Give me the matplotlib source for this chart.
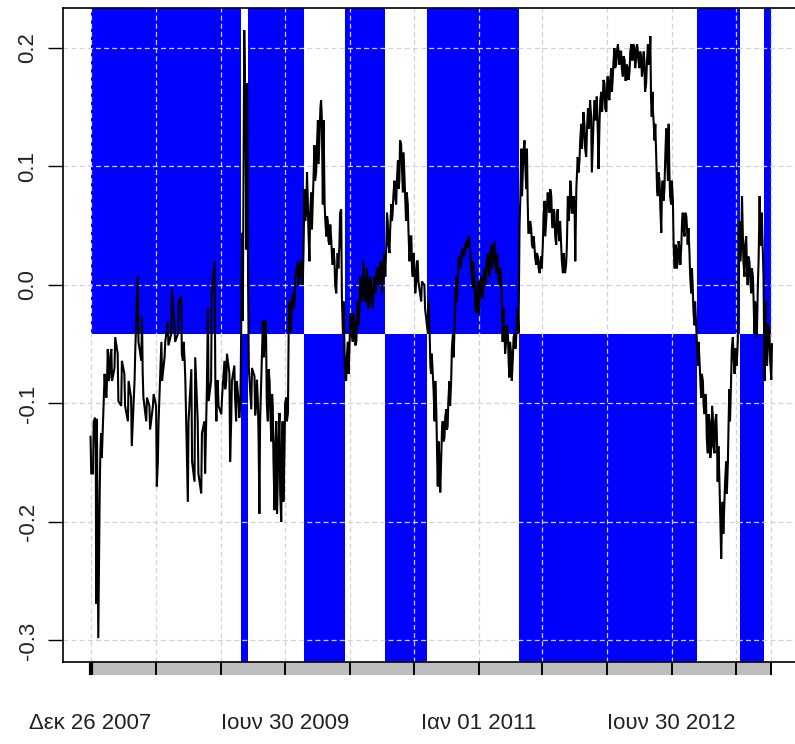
import numpy as np
import matplotlib
matplotlib.use("Agg")
import matplotlib.pyplot as plt
from matplotlib.patches import Rectangle
import matplotlib.transforms as mtransforms

# ---------------- data ----------------
start_date = np.datetime64("2007-12-26")

# day offset from start, and high / low of the series within each short window
sample_day = [
    0, 7, 13, 16, 20, 26, 30, 35, 40, 45, 49, 54, 59, 68, 77, 87, 96, 106, 115, 125,
    134, 144, 148, 158, 167, 177, 186, 191, 201, 210, 219, 229, 238, 248, 257, 262, 267, 276, 286, 295,
    304, 314, 323, 328, 333, 342, 352, 357, 361, 371, 380, 385, 394, 399, 408, 413, 420, 425, 430, 434,
    438, 442, 447, 456, 465, 470, 475, 479, 489, 494, 498, 503, 508, 513, 517, 522, 527, 531, 536, 541,
    545, 550, 555, 560, 564, 569, 574, 579, 588, 593, 598, 602, 607, 612, 616, 621, 626, 631, 635, 640,
    645, 650, 654, 659, 664, 669, 673, 678, 683, 687, 692, 697, 701, 706, 711, 716, 720, 725, 730, 735,
    739, 744, 749, 754, 758, 763, 768, 772, 777, 782, 787, 791, 796, 801, 806, 810, 815, 820, 825, 829,
    834, 839, 843, 848, 853, 857, 862, 867, 872, 876, 881, 886, 891, 895, 900, 905, 910, 914, 919, 924,
    928, 938, 947, 957, 962, 966, 971, 976, 981, 985, 990, 995, 999, 1004, 1009, 1013, 1018, 1023, 1028, 1032,
    1037, 1042, 1047, 1051, 1056, 1061, 1066, 1070, 1075, 1084, 1089, 1094, 1099, 1103, 1108, 1113, 1118, 1122, 1127, 1132,
    1137, 1141, 1146, 1151, 1155, 1160, 1165, 1169, 1174, 1179, 1184, 1188, 1193, 1198, 1203, 1207, 1212, 1217, 1222, 1226,
    1231, 1236, 1240, 1245, 1250, 1255, 1259, 1264, 1269, 1274, 1278, 1283, 1288, 1293, 1297, 1302, 1307, 1311, 1316, 1321,
    1325, 1330, 1335, 1340, 1344, 1349, 1354, 1359, 1363, 1368, 1373, 1378, 1382, 1387, 1392, 1396, 1401, 1406, 1411, 1415,
    1420, 1425, 1430, 1434, 1439, 1444, 1449, 1453, 1458, 1463, 1467, 1472, 1477, 1481, 1486, 1491, 1496, 1500, 1505, 1510,
    1515, 1519, 1524, 1529, 1534, 1538, 1543, 1548, 1552, 1557, 1562, 1567, 1571, 1576, 1581, 1586, 1588, 1592, 1595, 1600,
    1605, 1609, 1614, 1619, 1623, 1628, 1633, 1638, 1642, 1647, 1652, 1657, 1661, 1666, 1671, 1676, 1680, 1685, 1690, 1694,
    1699, 1704, 1708, 1713, 1718, 1723, 1727, 1732, 1737, 1742, 1746, 1751, 1756, 1761, 1765, 1770, 1775, 1779, 1784, 1789,
    1793, 1798, 1803, 1808, 1812, 1817, 1822, 1827, 1831, 1836, 1841, 1846, 1850, 1855, 1860, 1864, 1869, 1874, 1879, 1883,
    1888, 1893, 1898, 1902, 1907, 1912, 1917, 1921, 1926, 1931,
]
series_high = [
    -0.128, -0.115, -0.112, -0.113, -0.200, -0.140, -0.125, -0.105, -0.075, -0.078, -0.054, -0.060, -0.054, -0.044, -0.058, -0.064, -0.075, -0.081, -0.095, -0.054,
    0.007, -0.027, -0.075, -0.095, -0.102, -0.092, -0.102, -0.115, -0.048, -0.048, -0.031, -0.003, -0.034, -0.014, -0.010, -0.048, -0.064, -0.115, -0.071, -0.061,
    -0.115, -0.125, -0.115, -0.088, -0.020, -0.007, 0.020, -0.081, -0.081, -0.095, -0.064, -0.058, -0.075, -0.081, -0.068, -0.081, -0.098, -0.050, 0.044, 0.215,
    0.176, 0.170, 0.000, -0.070, -0.077, -0.080, -0.100, -0.115, -0.030, -0.030, -0.044, -0.071, -0.081, -0.092, -0.102, -0.136, -0.115, -0.132, -0.108, -0.132,
    -0.115, -0.100, -0.095, -0.040, -0.014, -0.014, -0.007, 0.007, 0.020, 0.017, 0.020, 0.027, 0.081, 0.095, 0.075, 0.061, 0.078, 0.095, 0.118, 0.115,
    0.139, 0.149, 0.156, 0.139, 0.068, 0.058, 0.054, 0.051, 0.037, 0.031, 0.020, 0.014, 0.027, 0.061, 0.064, -0.014, -0.048, -0.061, -0.048, -0.027,
    -0.024, -0.024, -0.034, -0.027, -0.014, 0.007, 0.003, 0.020, 0.000, 0.014, 0.000, 0.007, 0.003, 0.000, 0.007, 0.014, 0.014, 0.020, 0.014, 0.020,
    0.027, 0.061, 0.054, 0.047, 0.068, 0.075, 0.088, 0.088, 0.105, 0.122, 0.119, 0.112, 0.088, 0.078, 0.068, 0.041, 0.041, 0.027, 0.014, 0.020,
    0.020, 0.003, 0.000, -0.014, -0.041, -0.058, -0.075, -0.081, -0.108, -0.132, -0.149, -0.122, -0.115, -0.112, -0.105, -0.098, -0.081, -0.054, -0.041, -0.020,
    0.007, 0.020, 0.024, 0.027, 0.031, 0.034, 0.037, 0.041, 0.037, 0.020, 0.007, -0.014, 0.003, 0.003, 0.007, 0.007, 0.014, 0.020, 0.027, 0.024,
    0.034, 0.027, 0.037, 0.027, 0.020, 0.014, 0.003, -0.020, -0.037, -0.034, -0.041, -0.048, -0.058, -0.044, -0.041, -0.034, -0.020, 0.071, 0.115, 0.112,
    0.122, 0.115, 0.071, 0.054, 0.048, 0.041, 0.034, 0.027, 0.024, 0.020, 0.024, 0.058, 0.071, 0.068, 0.078, 0.081, 0.075, 0.064, 0.061, 0.054,
    0.064, 0.054, 0.034, 0.027, 0.020, 0.031, 0.075, 0.088, 0.081, 0.075, 0.068, 0.095, 0.108, 0.122, 0.136, 0.146, 0.136, 0.129, 0.149, 0.156,
    0.142, 0.139, 0.156, 0.159, 0.129, 0.156, 0.163, 0.173, 0.170, 0.166, 0.176, 0.173, 0.183, 0.186, 0.200, 0.197, 0.203, 0.197, 0.197, 0.193,
    0.190, 0.186, 0.183, 0.197, 0.203, 0.203, 0.200, 0.203, 0.200, 0.197, 0.193, 0.197, 0.190, 0.186, 0.203, 0.210, 0.207, 0.163, 0.149, 0.136,
    0.105, 0.095, 0.088, 0.081, 0.088, 0.105, 0.132, 0.136, 0.095, 0.088, 0.071, 0.034, 0.031, 0.037, 0.031, 0.054, 0.061, 0.061, 0.058, 0.048,
    0.027, 0.014, 0.000, -0.014, -0.034, -0.048, -0.061, -0.075, -0.081, -0.092, -0.098, -0.109, -0.115, -0.102, -0.109, -0.115, -0.109, -0.136, -0.166, -0.200,
    -0.183, -0.166, -0.149, -0.115, -0.088, -0.054, -0.044, -0.054, -0.054, -0.014, 0.054, 0.075, 0.048, 0.034, 0.041, 0.024, 0.020, 0.014, 0.007, -0.014,
    -0.020, 0.020, 0.075, 0.061, 0.027, -0.014, -0.041, -0.034, -0.041, -0.050,
]
series_low = [
    -0.159, -0.159, -0.140, -0.269, -0.298, -0.175, -0.146, -0.120, -0.088, -0.095, -0.081, -0.078, -0.081, -0.070, -0.098, -0.102, -0.102, -0.115, -0.136, -0.080,
    -0.048, -0.064, -0.095, -0.115, -0.122, -0.102, -0.170, -0.149, -0.081, -0.061, -0.051, -0.041, -0.048, -0.041, -0.058, -0.064, -0.081, -0.183, -0.149, -0.166,
    -0.159, -0.176, -0.159, -0.115, -0.098, -0.081, -0.081, -0.115, -0.102, -0.109, -0.088, -0.081, -0.149, -0.115, -0.095, -0.115, -0.112, -0.100, -0.030, 0.100,
    0.139, 0.030, -0.070, -0.105, -0.110, -0.100, -0.136, -0.193, -0.061, -0.047, -0.100, -0.115, -0.108, -0.132, -0.149, -0.190, -0.193, -0.166, -0.176, -0.200,
    -0.183, -0.142, -0.115, -0.108, -0.040, -0.037, -0.020, -0.014, 0.000, 0.007, 0.003, 0.000, 0.054, 0.064, 0.047, 0.020, 0.047, 0.075, 0.088, 0.095,
    0.102, 0.129, 0.142, 0.068, 0.054, 0.041, 0.037, 0.034, 0.024, 0.017, 0.000, -0.007, 0.014, 0.034, -0.010, -0.041, -0.075, -0.081, -0.075, -0.048,
    -0.041, -0.048, -0.051, -0.048, -0.034, -0.020, -0.014, -0.007, -0.014, -0.014, -0.020, -0.010, -0.017, -0.020, -0.007, 0.000, 0.000, 0.003, -0.007, 0.007,
    0.007, 0.034, 0.034, 0.027, 0.054, 0.061, 0.075, 0.068, 0.081, 0.088, 0.102, 0.078, 0.071, 0.054, 0.044, 0.020, 0.014, 0.007, -0.007, 0.003,
    0.003, -0.014, -0.020, -0.041, -0.068, -0.075, -0.088, -0.115, -0.142, -0.170, -0.175, -0.142, -0.132, -0.129, -0.122, -0.119, -0.102, -0.081, -0.061, -0.041,
    -0.014, 0.007, 0.014, 0.020, 0.024, 0.027, 0.031, 0.034, 0.027, -0.003, -0.014, -0.024, -0.024, -0.014, -0.010, -0.010, 0.000, 0.007, 0.014, 0.007,
    0.014, 0.020, 0.020, 0.010, 0.007, 0.000, -0.014, -0.048, -0.058, -0.048, -0.064, -0.078, -0.081, -0.061, -0.054, -0.048, -0.041, 0.051, 0.075, 0.095,
    0.102, 0.081, 0.044, 0.044, 0.034, 0.031, 0.024, 0.017, 0.014, 0.010, 0.014, 0.034, 0.041, 0.058, 0.068, 0.061, 0.054, 0.048, 0.041, 0.034,
    0.048, 0.037, 0.020, 0.010, 0.010, 0.017, 0.054, 0.068, 0.061, 0.061, 0.020, 0.081, 0.095, 0.105, 0.115, 0.125, 0.115, 0.108, 0.132, 0.136,
    0.095, 0.122, 0.139, 0.142, 0.098, 0.139, 0.146, 0.156, 0.149, 0.146, 0.159, 0.156, 0.163, 0.173, 0.183, 0.186, 0.193, 0.186, 0.183, 0.176,
    0.173, 0.173, 0.173, 0.180, 0.190, 0.190, 0.183, 0.193, 0.190, 0.183, 0.176, 0.183, 0.163, 0.170, 0.186, 0.190, 0.156, 0.142, 0.139, 0.122,
    0.081, 0.075, 0.068, 0.044, 0.071, 0.081, 0.112, 0.088, 0.075, 0.068, 0.034, 0.014, 0.014, 0.020, 0.017, 0.034, 0.048, 0.041, 0.048, 0.034,
    0.007, -0.007, -0.020, -0.034, -0.048, -0.068, -0.075, -0.095, -0.102, -0.109, -0.129, -0.142, -0.146, -0.136, -0.136, -0.142, -0.132, -0.166, -0.193, -0.231,
    -0.210, -0.183, -0.176, -0.149, -0.115, -0.081, -0.061, -0.075, -0.068, -0.048, 0.020, 0.034, 0.020, 0.007, 0.014, 0.000, 0.007, -0.007, -0.014, -0.041,
    -0.044, 0.000, 0.034, 0.034, 0.007, -0.081, -0.068, -0.054, -0.064, -0.080,
]

# regimes: 1 = blue band above the threshold, 0 = blue band below it
regime_start = [0, 428, 447, 606, 722, 835, 955, 1215, 1719, 1841, 1910]
regime_end = [428, 447, 606, 722, 835, 955, 1215, 1719, 1841, 1910, 1931]
regime_upper = [1, 0, 1, 0, 1, 0, 1, 0, 1, 0, 1]
threshold = -0.041

tick_dates = ["2007-12-26", "2008-06-30", "2008-12-31", "2009-06-30", "2009-12-31", "2010-06-30",
              "2011-01-01", "2011-06-30", "2011-12-30", "2012-06-30", "2012-12-31", "2013-04-09"]
tick_labels = ["Δεκ 26 2007", "", "", "Ιουν 30 2009", "", "", "Ιαν 01 2011", "", "",
               "Ιουν 30 2012", "", ""]
ytick_values = [-0.3, -0.2, -0.1, 0.0, 0.1, 0.2]
ytick_labels = ["-0.3", "-0.2", "-0.1", "0.0", "0.1", "0.2"]

# ---------------- figure ----------------
plt.rcParams["font.family"] = ["Liberation Sans", "DejaVu Sans"]
W, H = 795, 744
fig = plt.figure(figsize=(W / 100, H / 100), dpi=100)
left_px, right_px, top_px, bottom_px = 63.3, 798.5, 8.3, 661.7
ax = fig.add_axes([left_px / W, 1 - bottom_px / H, (right_px - left_px) / W, (bottom_px - top_px) / H])

ymin, ymax = -0.3179, 0.2335
first_day, last_day = sample_day[0], sample_day[-1]
xpad = 0.04 * (last_day - first_day)
ax.set_xlim(first_day - xpad, last_day + xpad)
ax.set_ylim(ymin, ymax)

# blue regime shading
for s, e, up in zip(regime_start, regime_end, regime_upper):
    if up:
        r = Rectangle((s, threshold), e - s, ymax - threshold)
    else:
        r = Rectangle((s, ymin), e - s, threshold - ymin)
    r.set_facecolor("#0000FF")
    r.set_edgecolor("none")
    r.set_zorder(1)
    ax.add_patch(r)

# series line: vertical strokes between high and low of each window
xs, ys = [], []
for i, (d, hi, lo) in enumerate(zip(sample_day, series_high, series_low)):
    if i % 2 == 0:
        xs += [d, d + 2]
        ys += [hi, lo]
    else:
        xs += [d, d + 2]
        ys += [lo, hi]
ax.plot(xs, ys, color="black", lw=1.5, zorder=3, solid_joinstyle="miter")

# axes ticks / grid
tick_days = [int((np.datetime64(t) - start_date).astype(int)) for t in tick_dates]
ax.set_xticks(tick_days)
ax.set_xticklabels(tick_labels, fontsize=16)
ax.set_yticks(ytick_values)
ax.set_yticklabels(ytick_labels, fontsize=16)
for lbl in ax.get_yticklabels():
    lbl.set_rotation(90)
    lbl.set_va("center")
    lbl.set_ha("right")

ax.grid(True, color="#D3D3D3", linestyle=(0, (4, 2.5)), linewidth=0.9)
ax.tick_params(axis="x", direction="out", length=9.6, width=1.4, pad=27, colors="black",
               labelcolor="#222222")
ax.tick_params(axis="y", direction="out", length=10.8, width=1.0, pad=7, labelcolor="#222222")
ax.xaxis.get_major_ticks()[0].tick1line.set_markeredgewidth(3.0)

for sp in ["left", "top", "bottom"]:
    ax.spines[sp].set_linewidth(1.2)
ax.spines["right"].set_visible(False)

# grey band under the time axis
trans = mtransforms.blended_transform_factory(ax.transData, ax.transAxes)
band_h = 13.3 / (bottom_px - top_px)
ax.add_patch(Rectangle((first_day, -band_h), last_day - first_day, band_h, transform=trans,
                       facecolor="#BEBEBE", edgecolor="none", clip_on=False, zorder=0.5))

fig.savefig("out.png", dpi=100)
